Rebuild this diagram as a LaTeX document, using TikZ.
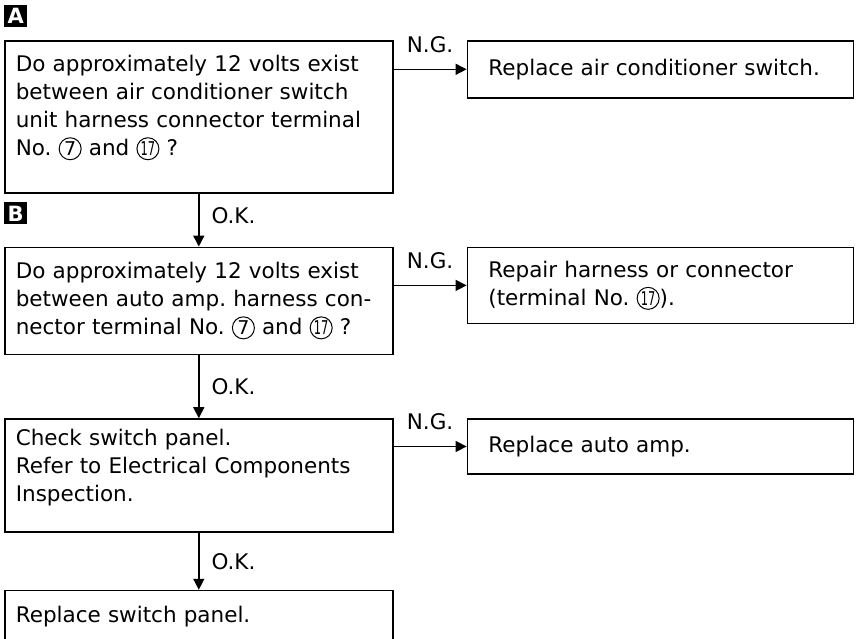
\documentclass[tikz,border=0pt]{standalone}
\usepackage{fontspec}
\setmainfont{DejaVu Sans}
\usepackage{graphicx}
\usetikzlibrary{arrows.meta,positioning}

% circled terminal number
\newcommand{\cnum}[1]{\tikz[baseline=(cn.base)]\node[draw, circle, line width=1pt,
    inner sep=0pt, minimum size=22pt, text width=, align=center,
    font=\fontsize{19}{19}\selectfont] (cn) {#1};}

\begin{document}
\begin{tikzpicture}[
    x=1pt, y=-1pt,
    >={Triangle[length=11pt, width=11pt]},
    font=\fontsize{21.5}{28}\selectfont,
    lbox/.style={draw, line width=1.6pt, align=left, inner xsep=11pt,
                 inner ysep=0pt, text width=366pt},
    rbox/.style={draw, line width=1.6pt, align=left, inner xsep=21pt,
                 inner ysep=0pt, text width=344pt},
    lift/.style={execute at end node={\endgraf\vspace{#1}}},
    tag/.style ={fill=black, text=white, inner sep=0pt,
                 minimum width=23pt, minimum height=22pt,
                 font=\fontsize{21}{21}\selectfont\bfseries},
    lab/.style ={inner sep=0pt},
    arr/.style ={->, line width=1.4pt}
]
\useasboundingbox (0,0) rectangle (857,639);
% --- left column: checks -------------------------------------------------
\node[lbox, lift=18pt, minimum height=152pt, anchor=north west] (qa) at (4,40)
    {Do approximately 12 volts exist\\
     between air conditioner switch\\
     unit harness connector terminal\\
     No.\ \cnum{7} and \cnum{\scalebox{0.6}[1]{17}} ?};
\node[lbox, minimum height=107pt, below=53pt of qa] (qb)
    {Do approximately 12 volts exist\\
     between auto amp.\ harness con-\\
     nector terminal No.\ \cnum{7} and \cnum{\scalebox{0.6}[1]{17}} ?};
\node[lbox, lift=15pt, minimum height=113pt, below=63pt of qb] (qc)
    {Check switch panel.\\
     Refer to Electrical Components\\
     Inspection.};
\node[lbox, minimum height=51pt, below=57pt of qc] (fix)
    {Replace switch panel.};
% --- step tags -----------------------------------------------------------
\node[tag, anchor=south west] (ta) at ([yshift=13pt]qa.north west) {A};
\node[tag, anchor=south west] (tb) at ([yshift=22pt]qb.north west) {B};
% --- right column: repairs -----------------------------------------------
\node[rbox, minimum height=57pt, anchor=north west] (ra)
    at ([xshift=73pt]qa.north east) {Replace air conditioner switch.};
\node[rbox, minimum height=76pt, anchor=north west] (rb)
    at ([xshift=73pt]qb.north east)
    {Repair harness or connector\\
     (terminal No.\ \cnum{\scalebox{0.6}[1]{17}}).};
\node[rbox, minimum height=55pt, anchor=north west] (rc)
    at ([xshift=73pt]qc.north east) {Replace auto amp.};
% --- arrows --------------------------------------------------------------
\draw[arr] (qa) -- node[lab, right=12pt, yshift=4pt]{O.K.} (qb);
\draw[arr] (qb) -- node[lab, right=12pt]{O.K.} (qc);
\draw[arr] (qc) -- node[lab, right=12pt]{O.K.} (fix);
\draw[arr] (qa.east |- ra.west) -- node[lab, above=16pt]{N.G.} (ra.west);
\draw[arr] (qb.east |- rb.west) -- node[lab, above=16pt]{N.G.} (rb.west);
\draw[arr] (qc.east |- rc.west) -- node[lab, above=16pt]{N.G.} (rc.west);
\end{tikzpicture}
\end{document}
